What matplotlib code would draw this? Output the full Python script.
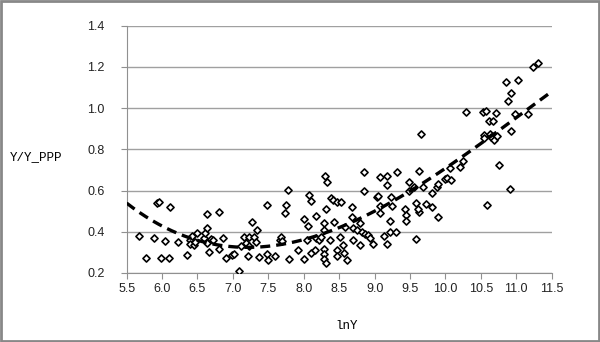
import matplotlib.pyplot as plt
import numpy as np
from matplotlib.patches import Rectangle

# lnY and Y/Y_PPP
ln_y = [
    5.67, 5.77, 5.89, 5.93, 5.96, 5.99, 6.04, 6.10, 6.11, 6.23,
    6.35, 6.39, 6.39, 6.42, 6.45, 6.47, 6.49, 6.59, 6.61, 6.63,
    6.63, 6.63, 6.67, 6.69, 6.72, 6.81, 6.81, 6.86, 6.90, 6.99,
    7.01, 7.09, 7.11, 7.16, 7.18, 7.22, 7.23, 7.23, 7.27, 7.30,
    7.32, 7.34, 7.37, 7.48, 7.48, 7.50, 7.59, 7.66, 7.68, 7.70,
    7.73, 7.75, 7.78, 7.79, 7.92,
    8.00, 8.01, 8.04, 8.06, 8.07, 8.10, 8.10, 8.16, 8.18, 8.18,
    8.22, 8.25, 8.28, 8.28, 8.28, 8.29, 8.29, 8.31, 8.30, 8.33,
    8.31, 8.37, 8.38, 8.41, 8.43, 8.47, 8.47, 8.47, 8.51, 8.53,
    8.56, 8.57, 8.58, 8.61, 8.68, 8.68, 8.69, 8.70, 8.75, 8.80,
    8.80, 8.82, 8.85, 8.85, 8.86, 8.91, 8.93, 8.98,
    9.03, 9.05, 9.07, 9.07, 9.08, 9.13, 9.17, 9.17, 9.17, 9.22,
    9.22, 9.23, 9.24, 9.30, 9.31, 9.43, 9.45, 9.44, 9.48, 9.48,
    9.55, 9.58, 9.59, 9.63, 9.63, 9.61, 9.66, 9.69, 9.72, 9.81,
    9.81, 9.88, 9.90, 9.90,
    10.00, 10.02, 10.08, 10.07, 10.21, 10.25, 10.29, 10.53, 10.57, 10.54,
    10.55, 10.58, 10.61, 10.63, 10.65, 10.67, 10.69, 10.71, 10.73, 10.75,
    10.85, 10.88, 10.91, 10.93, 10.93, 10.98, 11.02, 11.16, 11.23, 11.30,
]
y_ratio = [
    0.380, 0.274, 0.368, 0.540, 0.545, 0.271, 0.355, 0.274, 0.520, 0.350,
    0.289, 0.360, 0.340, 0.380, 0.334, 0.352, 0.396, 0.368, 0.393, 0.420,
    0.488, 0.347, 0.300, 0.363, 0.360, 0.496, 0.315, 0.368, 0.274, 0.287,
    0.290, 0.210, 0.331, 0.373, 0.347, 0.283, 0.376, 0.331, 0.449, 0.373,
    0.350, 0.409, 0.276, 0.292, 0.530, 0.263, 0.283, 0.362, 0.373, 0.357,
    0.493, 0.530, 0.603, 0.270, 0.310,
    0.462, 0.270, 0.360, 0.430, 0.579, 0.551, 0.295, 0.311, 0.477, 0.368,
    0.360, 0.373, 0.441, 0.315, 0.290, 0.409, 0.266, 0.247, 0.671, 0.643,
    0.512, 0.360, 0.562, 0.553, 0.449, 0.545, 0.311, 0.283, 0.373, 0.545,
    0.336, 0.295, 0.425, 0.263, 0.522, 0.473, 0.360, 0.417, 0.409, 0.444,
    0.336, 0.400, 0.689, 0.598, 0.390, 0.384, 0.370, 0.341,
    0.570, 0.575, 0.525, 0.490, 0.668, 0.380, 0.671, 0.627, 0.341, 0.454,
    0.400, 0.570, 0.525, 0.400, 0.689, 0.509, 0.482, 0.454, 0.643, 0.600,
    0.619, 0.364, 0.538, 0.697, 0.497, 0.510, 0.875, 0.616, 0.535, 0.587,
    0.522, 0.616, 0.632, 0.473,
    0.655, 0.660, 0.652, 0.708, 0.716, 0.744, 0.980, 0.980, 0.988, 0.870,
    0.854, 0.530, 0.939, 0.875, 0.862, 0.939, 0.846, 0.978, 0.865, 0.724,
    1.126, 1.036, 0.606, 1.072, 0.889, 0.972, 1.134, 0.972, 1.197, 1.221,
]

# samples
trend_ln_y = [5.5, 5.83, 6.16, 6.54, 6.82, 7.01, 7.29, 7.57, 7.85, 7.99,
              8.28, 8.91, 9.27, 9.50, 9.81, 10.02, 10.44, 11.5]
trend_ratio = [0.538, 0.465, 0.409, 0.352, 0.328, 0.316, 0.319, 0.336, 0.352, 0.363,
               0.392, 0.490, 0.563, 0.611, 0.660, 0.700, 0.797, 1.088]

x_ticks = [5.5, 6.0, 6.5, 7.0, 7.5, 8.0, 8.5, 9.0, 9.5, 10.0, 10.5, 11.0, 11.5]
y_ticks = [0.2, 0.4, 0.6, 0.8, 1.0, 1.2, 1.4]

plt.rcParams["font.family"] = ["Liberation Sans", "DejaVu Sans"]

fig = plt.figure(figsize=(6.0, 3.42), dpi=100)
ax = fig.add_axes([0.211, 0.2018, 0.7085, 0.7232])

ax.scatter(ln_y, y_ratio, marker="D", s=13, facecolors="white",
           edgecolors="black", linewidths=1.2, zorder=3)

# cubic trend through the sampled curve
coef = np.polyfit(trend_ln_y, trend_ratio, 3)
xs = np.linspace(5.5, 11.5, 200)
ax.plot(xs, np.polyval(coef, xs), color="black", lw=2.4,
        dashes=(3, 1.8), zorder=4)

ax.set_xlim(5.5, 11.5)
ax.set_ylim(0.2, 1.4)
ax.set_xticks(x_ticks)
ax.set_yticks(y_ticks)
ax.set_xticklabels([f"{t:.1f}" for t in x_ticks])
ax.set_yticklabels([f"{t:.1f}" for t in y_ticks])
ax.yaxis.grid(True, color="#a0a0a0", lw=1)
ax.set_axisbelow(True)
for side in ["top", "right"]:
    ax.spines[side].set_visible(False)
for side in ["left", "bottom"]:
    ax.spines[side].set_color("#909090")
ax.tick_params(axis="both", colors="#909090", labelcolor="#222222",
               labelsize=9, length=4, direction="out")
ax.tick_params(axis="y", pad=12)

fig.text(0.017, 0.541, "Y/Y_PPP", family="Liberation Mono", fontsize=9,
         va="center", ha="left")
fig.text(0.577, 0.047, "lnY", family="Liberation Mono", fontsize=9,
         va="center", ha="center")

fig.patches.append(Rectangle((0.002, 0.003), 0.996, 0.994, transform=fig.transFigure,
                             fill=False, edgecolor="#888888", lw=2))

fig.savefig("out.png", dpi=100)
